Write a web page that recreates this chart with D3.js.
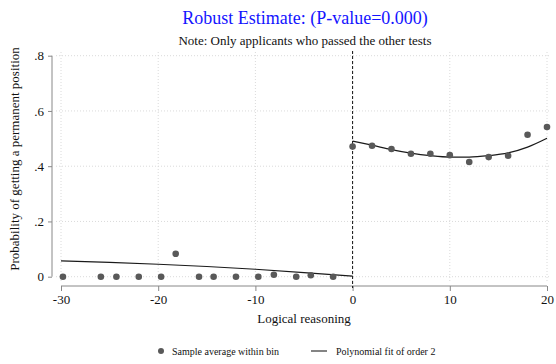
<!DOCTYPE html>
<html>
<head>
<meta charset="utf-8">
<script src="https://cdn.jsdelivr.net/npm/d3@7"></script>
<style>
  html, body { margin: 0; padding: 0; background: #fff; }
  svg { display: block; font-family: "Liberation Serif", "Times New Roman", serif; }
</style>
</head>
<body>
<svg id="chart" width="556" height="364"></svg>
<script>
// Bin averages below and above the cutoff (score, share hired permanently)
const leftBinX = [-29.8, -25.9, -24.3, -22.0, -19.7, -18.2, -15.8, -14.3, -12.0, -9.7, -8.1, -5.8, -4.3, -2.0];
const leftBinY = [0, 0, 0, 0, 0, 0.083, 0, 0, 0, 0, 0.007, 0, 0.005, 0];
const rightBinX = [0, 2, 4, 6, 8, 10, 12, 14, 16, 18, 20];
const rightBinY = [0.471, 0.474, 0.462, 0.445, 0.445, 0.440, 0.415, 0.433, 0.438, 0.514, 0.542];

// Quadratic fit on each side of the cutoff
const leftFitX = [-30, -25, -20, -15, -10, -5, 0];
const leftFitY = [0.057, 0.052, 0.045, 0.037, 0.027, 0.015, 0.002];
const rightFitX = [0, 2, 4, 6, 8, 10, 12, 14, 16, 18, 20];
const rightFitY = [0.491, 0.476, 0.460, 0.447, 0.438, 0.433, 0.433, 0.438, 0.448, 0.469, 0.501];

const xTicks = [-30, -20, -10, 0, 10, 20];
const xTickLabels = ["-30", "-20", "-10", "0", "10", "20"];
const yTicks = [0, 0.2, 0.4, 0.6, 0.8];
const yTickLabels = ["0", ".2", ".4", ".6", ".8"];

const svg = d3.select("#chart");
const x = d3.scaleLinear().domain([-30, 20]).range([61, 547]);
const y = d3.scaleLinear().domain([0, 0.8]).range([276.7, 55.7]);

// Titles
svg.append("text").attr("x", 305).attr("y", 24).attr("text-anchor", "middle")
  .attr("font-size", 18).attr("fill", "#1414ff").text("Robust Estimate: (P-value=0.000)");
svg.append("text").attr("x", 305).attr("y", 45).attr("text-anchor", "middle")
  .attr("font-size", 13).attr("fill", "#111").text("Note: Only applicants who passed the other tests");

// Dotted grid
const grid = svg.append("g").attr("stroke", "#dadada").attr("stroke-width", 1).attr("stroke-dasharray", "1,2");
grid.selectAll("line.h").data(yTicks).join("line").attr("class", "h")
  .attr("x1", 56).attr("x2", 551).attr("y1", d => y(d)).attr("y2", d => y(d));
grid.selectAll("line.v").data(xTicks).join("line").attr("class", "v")
  .attr("x1", d => x(d)).attr("x2", d => x(d)).attr("y1", 52).attr("y2", 281);

// Y axis
const yAxis = d3.axisLeft(y).tickValues(yTicks).tickFormat((d, i) => yTickLabels[i]).tickSize(4).tickPadding(4);
const gy = svg.append("g").attr("transform", "translate(52,0)").call(yAxis);
gy.select(".domain").attr("stroke", "#888").attr("d", `M0,${y(0.8)}V${y(0)}`);
gy.selectAll(".tick line").attr("stroke", "#888");
gy.selectAll(".tick text").attr("font-size", 13).attr("font-family", "Liberation Serif").attr("fill", "#111");

// X axis
const xAxis = d3.axisBottom(x).tickValues(xTicks).tickFormat((d, i) => xTickLabels[i]).tickSize(5).tickPadding(4);
const gx = svg.append("g").attr("transform", "translate(0,286)").call(xAxis);
gx.select(".domain").attr("stroke", "#888").attr("d", `M${x(-30)},0H${x(20)}`);
gx.selectAll(".tick line").attr("stroke", "#888");
gx.selectAll(".tick text").attr("font-size", 13).attr("font-family", "Liberation Serif").attr("fill", "#111");

// Axis titles
svg.append("text").attr("transform", "translate(19,159) rotate(-90)").attr("text-anchor", "middle")
  .attr("font-size", 13).attr("fill", "#111").text("Probability of getting a permanent position");
svg.append("text").attr("x", 304).attr("y", 323).attr("text-anchor", "middle")
  .attr("font-size", 13).attr("fill", "#111").text("Logical reasoning");

// Cutoff
svg.append("line").attr("x1", x(0)).attr("x2", x(0)).attr("y1", 51).attr("y2", 288)
  .attr("stroke", "#111").attr("stroke-width", 1).attr("stroke-dasharray", "3,2");

// Fit lines
const line = d3.line().x(d => x(d[0])).y(d => y(d[1])).curve(d3.curveMonotoneX);
[[leftFitX, leftFitY], [rightFitX, rightFitY]].forEach(([xs, ys]) => {
  svg.append("path").datum(xs.map((v, i) => [v, ys[i]])).attr("d", line)
    .attr("fill", "none").attr("stroke", "#1a1a1a").attr("stroke-width", 1.2);
});

// Bin averages
const pts = leftBinX.map((v, i) => [v, leftBinY[i]]).concat(rightBinX.map((v, i) => [v, rightBinY[i]]));
svg.append("g").selectAll("circle").data(pts).join("circle")
  .attr("cx", d => x(d[0])).attr("cy", d => y(d[1])).attr("r", 3.3).attr("fill", "#595959");

// Legend
const lg = svg.append("g").attr("font-size", 10).attr("fill", "#111");
lg.append("circle").attr("cx", 161).attr("cy", 351).attr("r", 3).attr("fill", "#595959");
lg.append("text").attr("x", 172).attr("y", 355).text("Sample average within bin");
lg.append("line").attr("x1", 311).attr("x2", 327).attr("y1", 351).attr("y2", 351).attr("stroke", "#333").attr("stroke-width", 1.2);
lg.append("text").attr("x", 336).attr("y", 355).text("Polynomial fit of order 2");
</script>
</body>
</html>
